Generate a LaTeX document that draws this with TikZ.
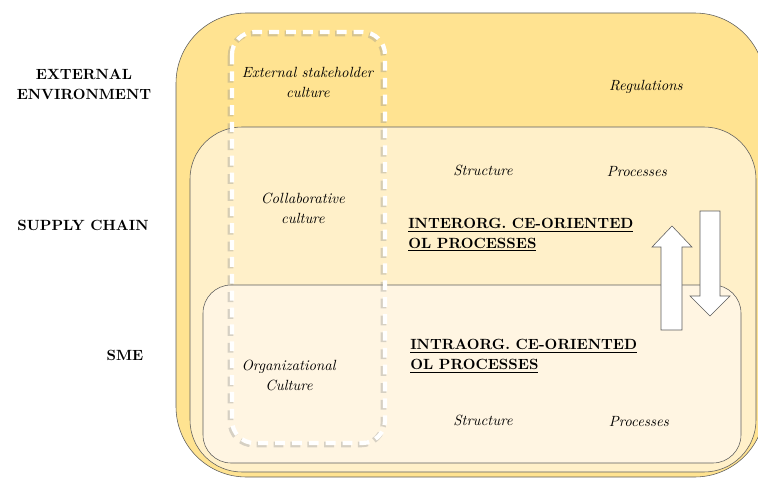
\documentclass[tikz,border=0pt]{standalone}
\usepackage{tikz}
\definecolor{envyellow}{HTML}{FFE391}
\definecolor{chainyellow}{HTML}{FFF0C9}
\definecolor{smecream}{HTML}{FFF5E2}
\definecolor{edgegray}{HTML}{5C5C5C}

\begin{document}
\begin{tikzpicture}[x=0.025cm, y=-0.025cm, every node/.style={font=\fontsize{10.5}{14.2}\selectfont, align=center}]
	\useasboundingbox (0,0) rectangle (758,479);
	\draw[edgegray, fill=envyellow, rounded corners=50pt] (176,13) rectangle (765,477);
	\draw[edgegray, fill=chainyellow, rounded corners=37pt] (190,127) rectangle (756,472);
	\draw[edgegray, fill=smecream, rounded corners=20pt] (203,285) rectangle (741,463);
	
	\draw[black!45, opacity=0.35, line width=4pt, dash pattern=on 7pt off 5pt, rounded corners=16pt] (230.5,33.5) rectangle (383.5,444.5);
	\draw[white, line width=3pt, dash pattern=on 7pt off 5pt, rounded corners=16pt] (232,32) rectangle (385,443);
	
	\draw[edgegray, fill=white] (661,330) -- (661,247) -- (652,247) -- (672,226) -- (692,247) -- (682,247) -- (682,330) -- cycle;
	\draw[edgegray, fill=white] (700,211) -- (720,211) -- (720,296) -- (730,296) -- (710,316) -- (690,296) -- (700,296) -- cycle;
	
	\node (extlab) at (84,84) {\textbf{EXTERNAL}\\\textbf{ENVIRONMENT}};
	\node (chainlab) at (83,225) {\textbf{SUPPLY CHAIN}};
	\node (smelab) at (125,355) {\textbf{SME}};
	
	\node (extcult) at (308,82) {\emph{External stakeholder}\\\emph{culture}};
	\node (collcult) at (303,208) {\emph{Collaborative}\\\emph{culture}};
	\node (orgcult) at (289,375) {\emph{Organizational}\\\emph{Culture}};
	
	\node (regul) at (646,87) {\emph{Regulations}};
	\node (chainstruct) at (483,170) {\emph{Structure}};
	\node (chainproc) at (637,172) {\emph{Processes}};
	\node (smestruct) at (483,420) {\emph{Structure}};
	\node (smeproc) at (639,422) {\emph{Processes}};
	
	\node[anchor=west, inner sep=0pt, align=left] (interol) at (408,235) {\textbf{\underline{INTERORG. CE-ORIENTED}}\\\textbf{\underline{OL PROCESSES}}};
	\node[anchor=west, inner sep=0pt, align=left] (intraol) at (410,356) {\textbf{\underline{INTRAORG. CE-ORIENTED}}\\\textbf{\underline{OL PROCESSES}}};
\end{tikzpicture}
\end{document}
